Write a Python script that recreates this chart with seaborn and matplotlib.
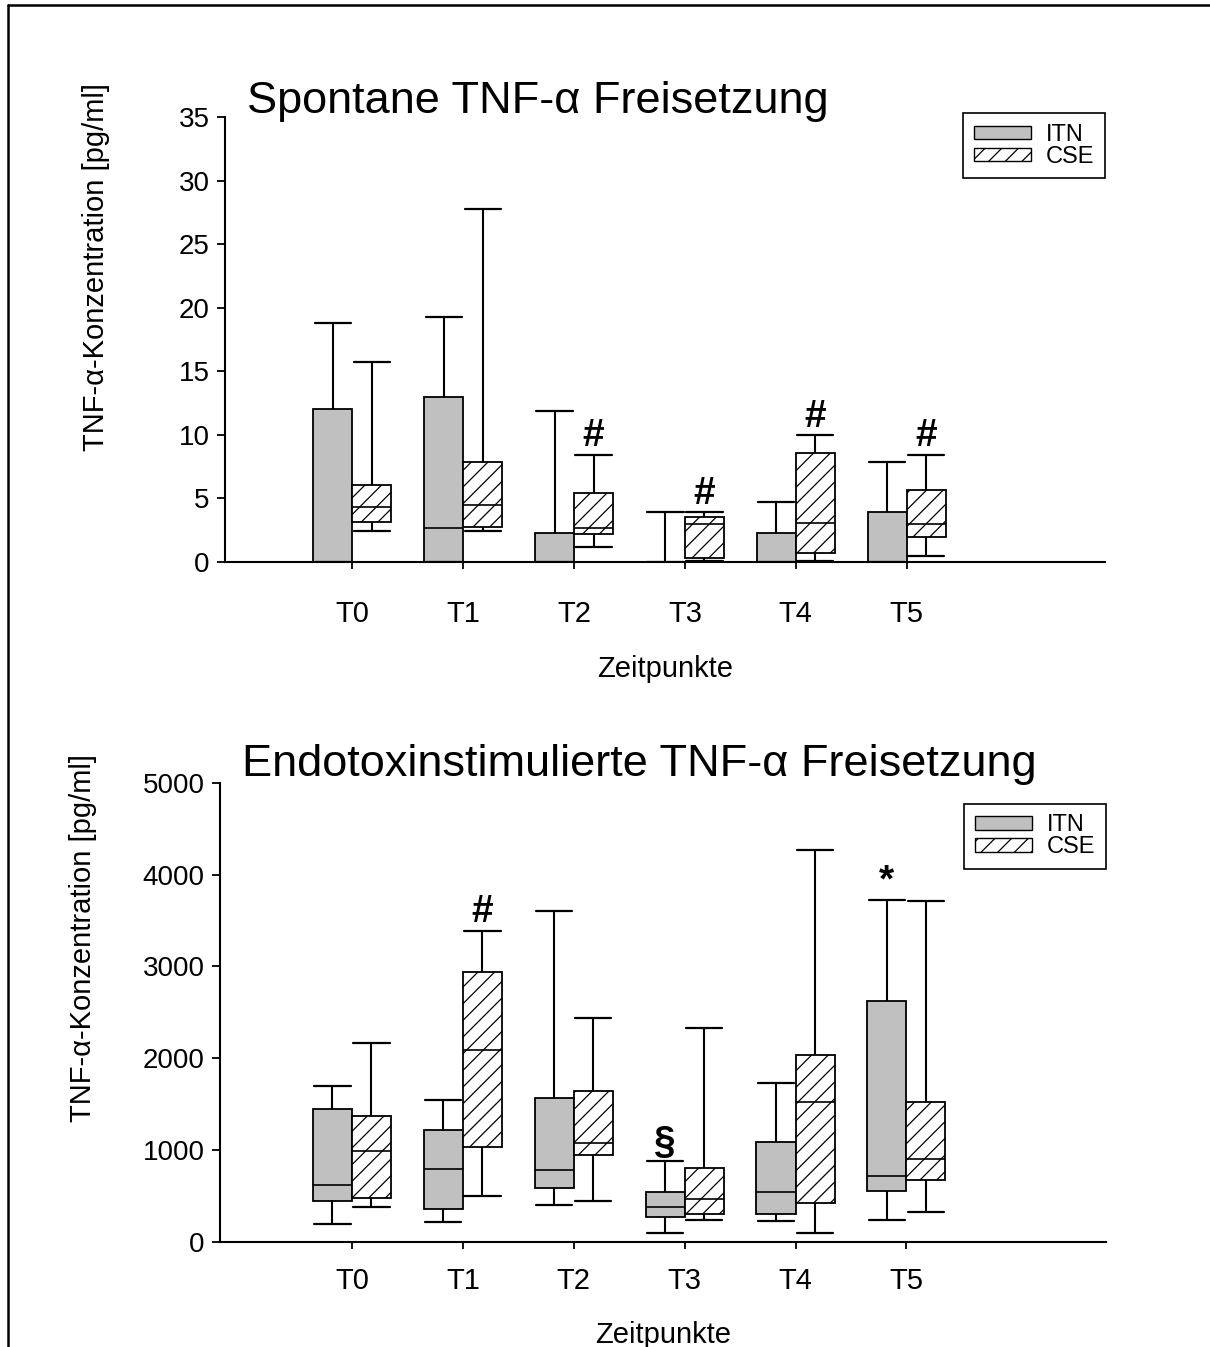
import numpy as np
import pandas as pd
import matplotlib
matplotlib.use("Agg")
import matplotlib.pyplot as plt
from matplotlib.patches import Patch
from matplotlib.lines import Line2D
import seaborn as sns

# ---------------- data (five-number summaries) ----------------
times = ["T0", "T1", "T2", "T3", "T4", "T5"]
groups = ["ITN", "CSE"]

# Spontane TNF-alpha Freisetzung [pg/ml]
spont_itn_low = [0, 0, 0, 0, 0, 0]
spont_itn_q1 = [0, 0, 0, 0, 0, 0]
spont_itn_med = [0, 2.65, 0, 0, 0, 0]
spont_itn_q3 = [12.05, 13.0, 2.3, 0, 2.25, 3.9]
spont_itn_high = [18.8, 19.3, 11.9, 3.9, 4.75, 7.9]

spont_cse_low = [2.45, 2.4, 1.2, 0.05, 0.1, 0.5]
spont_cse_q1 = [3.15, 2.75, 2.2, 0.3, 0.7, 1.95]
spont_cse_med = [4.3, 4.45, 2.7, 2.95, 3.05, 2.95]
spont_cse_q3 = [6.05, 7.9, 5.4, 3.55, 8.6, 5.7]
spont_cse_high = [15.7, 27.8, 8.45, 3.9, 9.95, 8.45]

# Endotoxinstimulierte TNF-alpha Freisetzung [pg/ml]
endo_itn_low = [195, 220, 405, 100, 225, 235]
endo_itn_q1 = [445, 355, 585, 265, 300, 555]
endo_itn_med = [620, 790, 780, 375, 540, 715]
endo_itn_q3 = [1445, 1220, 1570, 540, 1085, 2625]
endo_itn_high = [1695, 1540, 3605, 875, 1725, 3730]

endo_cse_low = [380, 500, 445, 235, 100, 325]
endo_cse_q1 = [475, 1035, 940, 300, 425, 675]
endo_cse_med = [990, 2090, 1075, 460, 1525, 900]
endo_cse_q3 = [1370, 2935, 1645, 800, 2030, 1525]
endo_cse_high = [2165, 3390, 2440, 2325, 4275, 3715]

# significance marks: (time, group, symbol)
spont_marks = [("T2", "CSE", "#"), ("T3", "CSE", "#"), ("T4", "CSE", "#"), ("T5", "CSE", "#")]
endo_marks = [("T1", "CSE", "#"), ("T3", "ITN", "§"), ("T5", "ITN", "*")]

titles = ["Spontane TNF-α Freisetzung", "Endotoxinstimulierte TNF-α Freisetzung"]
ylabel = "TNF-α-Konzentration [pg/ml]"
xlabel = "Zeitpunkte"


def long_frame(stats):
    rows = []
    for g, arrs in stats.items():
        for i, t in enumerate(times):
            for a in arrs:
                rows.append({"time": t, "group": g, "value": a[i]})
    return pd.DataFrame(rows)


df_spont = long_frame({
    "ITN": [spont_itn_low, spont_itn_q1, spont_itn_med, spont_itn_q3, spont_itn_high],
    "CSE": [spont_cse_low, spont_cse_q1, spont_cse_med, spont_cse_q3, spont_cse_high],
})
df_endo = long_frame({
    "ITN": [endo_itn_low, endo_itn_q1, endo_itn_med, endo_itn_q3, endo_itn_high],
    "CSE": [endo_cse_low, endo_cse_q1, endo_cse_med, endo_cse_q3, endo_cse_high],
})
highs = {
    "spont": {"ITN": spont_itn_high, "CSE": spont_cse_high},
    "endo": {"ITN": endo_itn_high, "CSE": endo_cse_high},
}

# ---------------- style ----------------
sns.set_theme(style="ticks")
plt.rcParams["font.family"] = ["Liberation Sans", "DejaVu Sans"]
plt.rcParams["text.color"] = "black"
plt.rcParams["axes.labelcolor"] = "black"
plt.rcParams["xtick.color"] = "black"
plt.rcParams["ytick.color"] = "black"
plt.rcParams["axes.edgecolor"] = "black"
plt.rcParams["hatch.linewidth"] = 0.9
plt.rcParams["hatch.color"] = "black"
plt.rcParams["axes.linewidth"] = 1.5

GRAY = "#c0c0c0"
pal = {"ITN": GRAY, "CSE": "white"}
BOXW = 0.704

fig = plt.figure(figsize=(12.10, 13.47), dpi=100)
ax1 = fig.add_axes([225 / 1210, 1 - 562 / 1347, 880 / 1210, 445 / 1347])
ax2 = fig.add_axes([220 / 1210, 1 - 1241.7 / 1347, 886 / 1210, 458.7 / 1347])


def draw(ax, df, key, marks, ylim, yticks, xlim, xpad, labelpad, ylab_xy, legend_y):
    sns.boxplot(data=df, x="time", y="value", hue="group", order=times,
                hue_order=groups, palette=pal, width=BOXW, gap=0, dodge=True,
                whis=(0, 100), showfliers=False, linecolor="black",
                linewidth=1.3, legend=False, ax=ax, capwidths=BOXW / 2 * 0.93,
                medianprops=dict(color="black", linewidth=1.2),
                whiskerprops=dict(color="black", linewidth=1.5),
                capprops=dict(color="black", linewidth=1.6))
    for p in ax.patches:
        fc = p.get_facecolor()
        if fc[0] > 0.95 and fc[1] > 0.95 and fc[2] > 0.95:
            p.set_hatch("//")
    ax.set_ylim(*ylim)
    ax.set_yticks(yticks)
    ax.set_xlim(*xlim)
    sns.despine(ax=ax)
    ax.tick_params(axis="y", length=6, width=1.3, pad=5, labelsize=20, colors="black")
    ax.tick_params(axis="x", length=5, width=1.3, pad=xpad, labelsize=21, colors="black")
    ax.set_xlabel(xlabel, fontsize=21, labelpad=labelpad, color="black")
    ax.set_ylabel(ylabel, fontsize=21, color="black")
    ax.yaxis.set_label_coords(*ylab_xy)
    # significance markers
    off = BOXW / 4
    for t, g, s in marks:
        i = times.index(t)
        x = i + (-off if g == "ITN" else off)
        y = highs[key][g][i]
        ax.annotate(s, (x, y), xytext=(0, 6), textcoords="offset points",
                    ha="center", va="baseline", fontsize=28, fontweight="bold",
                    color="black")
    handles = [Patch(facecolor=GRAY, edgecolor="black", linewidth=1.0),
               Patch(facecolor="white", edgecolor="black", linewidth=1.0, hatch="//")]
    leg = ax.legend(handles, groups, loc="upper right", bbox_to_anchor=(1.0, legend_y),
                    borderaxespad=0, fontsize=17, frameon=True, fancybox=False,
                    edgecolor="black", framealpha=1, handlelength=2.4,
                    handleheight=0.5, handletextpad=0.65, labelspacing=0.0,
                    borderpad=0.45)
    leg.get_frame().set_linewidth(1.2)
    for txt in leg.get_texts():
        txt.set_color("black")


draw(ax1, df_spont, "spont", spont_marks, (0, 35), np.arange(0, 36, 5),
     (-1.15, 6.79), 22, 20, (-0.131, 0.662), 1.009)
draw(ax2, df_endo, "endo", endo_marks, (0, 5000), np.arange(0, 5001, 1000),
     (-1.19, 6.8), 13, 19, (-0.139, 0.663), 0.955)

fig.text(247 / 1210, 1 - 113 / 1347, titles[0], fontsize=32.5, ha="left", va="baseline",
         color="black")
fig.text(242 / 1210, 1 - 776 / 1347, titles[1], fontsize=32.5, ha="left", va="baseline",
         color="black")

# page frame (top and left border)
fig.add_artist(Line2D([0.0065, 0.0065], [0.0, 0.9965], transform=fig.transFigure,
                      color="black", linewidth=1.8))
fig.add_artist(Line2D([0.0065, 1.0], [0.9965, 0.9965], transform=fig.transFigure,
                      color="black", linewidth=1.8))

fig.savefig("out.png", dpi=100, facecolor="white")
